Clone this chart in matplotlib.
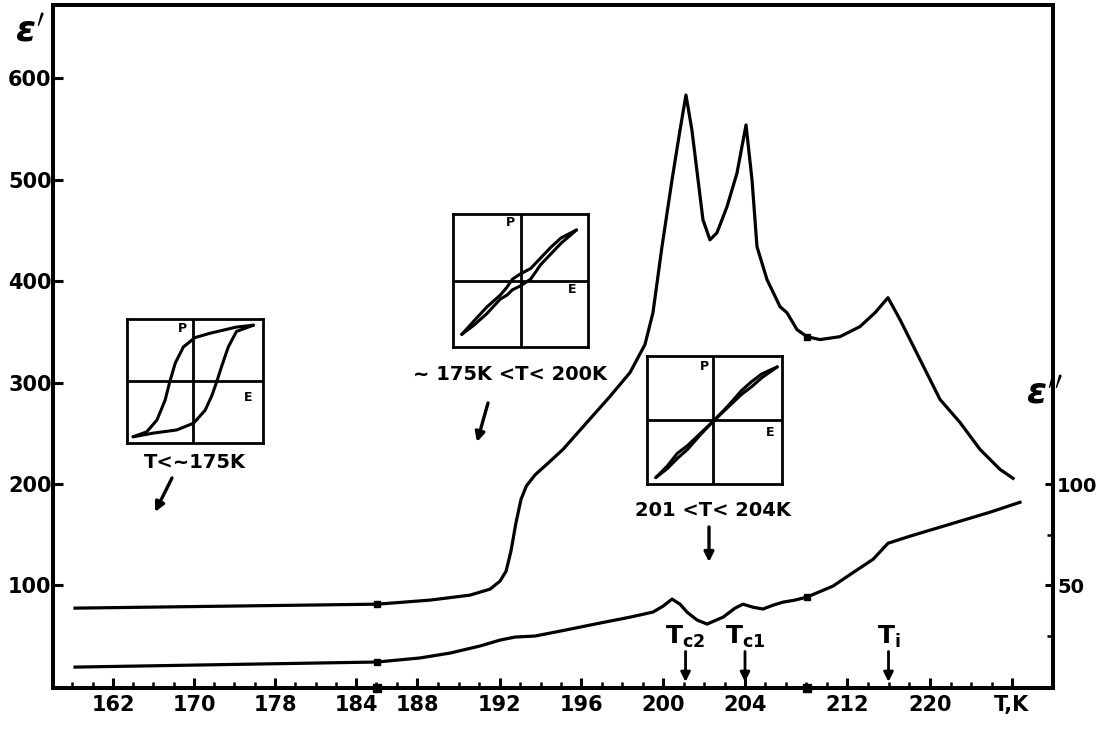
import numpy as np
import matplotlib
matplotlib.use('Agg')
from matplotlib import pyplot as plt

plt.rcParams['font.family'] = ['DejaVu Sans']
plt.rcParams['font.weight'] = 'bold'
plt.rcParams['mathtext.fontset'] = 'dejavusans'

# Temperature axis as drawn (hand-drawn, broken scale)
tick_T = [162, 170, 178, 184, 188, 192, 196, 200, 204, 212, 220, 228]
tick_labels = ['162', '170', '178', '184', '188', '192', '196', '200', '204', '212', '220', 'T,K']
minor_steps = [4, 4, 4, 3, 4, 4, 4, 4, 5, 4, 4]
tick_pos = [113, 194, 275, 356, 417, 500, 581, 663, 745, 847, 930, 1012]   # pixel layout of the ticks

# eps' (left axis)
eps1_T = [158.25, 185.38, 188.63, 190.55, 191.52, 192.0, 192.3, 192.54, 192.79, 193.04,
          193.3, 193.73, 194.37, 195.11, 196.2, 197.41, 198.39, 199.12, 199.51, 199.95,
          200.44, 200.83, 201.12, 201.41, 201.71, 201.95, 202.29, 202.63, 203.12, 203.61,
          204.08, 204.55, 204.94, 205.73, 206.75, 207.29, 208.08, 208.86, 209.88, 211.45,
          213.25, 214.7, 215.95, 217.11, 219.04, 220.98, 222.93, 224.88, 226.83, 228.1]
eps1 = [77.7, 81.6, 85.6, 90.5, 96.4, 104.3, 114.1, 133.8, 162.0, 185.0,
        198.0, 209.0, 220.5, 234.1, 258.7, 286.2, 309.8, 337.4, 368.8, 433.8,
        499.7, 548.8, 583.3, 548.8, 499.7, 460.3, 440.6, 447.5, 473.1, 506.5,
        553.8, 499.7, 433.8, 401.3, 374.7, 368.8, 352.1, 345.2, 342.3, 345.2,
        355.1, 368.8, 383.6, 362.0, 322.6, 283.3, 260.6, 234.1, 214.4, 205.6]
eps1_marks = [1, 37]

# eps'' (right axis)
eps2_T = [158.25, 185.38, 188.14, 189.59, 191.04, 192.0, 192.74, 193.73, 194.96, 196.93,
          198.39, 199.51, 200.0, 200.44, 200.83, 201.17, 201.66, 202.15, 202.93, 203.51,
          203.9, 204.63, 205.41, 206.2, 206.98, 207.92, 208.86, 210.9, 212.77, 214.51,
          215.95, 218.07, 221.95, 225.85, 228.78]
eps2 = [9.8, 12.3, 14.3, 16.7, 20.2, 23.1, 24.6, 25.1, 27.5, 31.5,
        34.4, 36.9, 39.8, 43.3, 40.8, 36.9, 33.0, 31.0, 34.4, 38.8,
        40.8, 39.3, 38.4, 40.3, 41.8, 42.8, 44.3, 49.7, 57.0, 62.9,
        70.8, 74.3, 80.2, 86.1, 91.0]
eps2_marks = [1, 26]
break_T = [185.38, 208.86]

# transition temperatures
trans_T = [201.1, 204.0, 216.0]
trans_labels = [r'$\mathrm{T}_{\mathrm{c2}}$', r'$\mathrm{T}_{\mathrm{c1}}$', r'$\mathrm{T}_{\mathrm{i}}$']

# P-E loops of the insets (normalised E, P)
loop1_up_E = [-0.91, -0.61, -0.27, -0.02, 0.15, 0.25, 0.32, 0.39, 0.49, 0.61, 0.86]
loop1_up_P = [-0.90, -0.84, -0.79, -0.68, -0.47, -0.23, -0.01, 0.23, 0.55, 0.80, 0.90]
loop1_dn_E = [0.86, 0.61, 0.22, 0.0, -0.17, -0.29, -0.37, -0.44, -0.56, -0.71, -0.91]
loop1_dn_P = [0.90, 0.87, 0.77, 0.70, 0.55, 0.29, -0.01, -0.31, -0.63, -0.82, -0.90]

loop2_E = [-0.87, -0.7, -0.5, -0.3, -0.2, -0.12, 0.0, 0.15, 0.3, 0.45, 0.6, 0.83]
loop2_up = [-0.81, -0.62, -0.40, -0.22, -0.10, 0.02, 0.10, 0.18, 0.34, 0.50, 0.64, 0.76]
loop2_dn = [-0.81, -0.68, -0.50, -0.28, -0.22, -0.14, -0.08, 0.02, 0.24, 0.40, 0.56, 0.76]

loop3_E = [-0.87, -0.7, -0.55, -0.4, -0.2, 0.0, 0.2, 0.4, 0.55, 0.7, 0.93]
loop3_up = [-0.90, -0.72, -0.52, -0.40, -0.20, 0.0, 0.22, 0.46, 0.60, 0.72, 0.83]
loop3_dn = [-0.90, -0.76, -0.60, -0.46, -0.22, 0.0, 0.20, 0.40, 0.52, 0.66, 0.83]

captions = ['T<~175K', '~ 175K <T< 200K', '201 <T< 204K']


# piecewise linear temperature -> drawing position
s0 = (tick_pos[1] - tick_pos[0]) / (tick_T[1] - tick_T[0])
s1 = (tick_pos[-1] - tick_pos[-2]) / (tick_T[-1] - tick_T[-2])
ext_T = [tick_T[0] - 20] + tick_T + [tick_T[-1] + 20]
ext_pos = [tick_pos[0] - 20 * s0] + tick_pos + [tick_pos[-1] + 20 * s1]


def t_to_pos(t):
    return np.interp(t, ext_T, ext_pos)


def pos_to_t(p):
    return np.interp(p, ext_pos, ext_T)


W, H = 1104, 729


def fx(x):
    return x / W


def fy(y):
    return 1 - y / H


fig = plt.figure(figsize=(11.04, 7.29), dpi=100)
ax = fig.add_axes([fx(53), fy(688), fx(1053) - fx(53), fy(5) - fy(688)])
ax.set_xscale('function', functions=(t_to_pos, pos_to_t))
ax.set_xlim(float(pos_to_t(53)), float(pos_to_t(1053)))
ax.set_ylim(-1, 672)
ax2 = ax.twinx()
ax2.set_ylim(-0.5, 336)

ax.plot(eps1_T, eps1, color='black', lw=2.3, marker='s', ms=5, markevery=eps1_marks,
        solid_joinstyle='round')
ax2.plot(eps2_T, eps2, color='black', lw=2.3, marker='s', ms=5, markevery=eps2_marks,
         solid_joinstyle='round')
ax.plot(break_T, [-1, -1], 's', color='black', ms=6, clip_on=False)

# ticks
ax.set_xticks(tick_T, tick_labels)
minor = [160, 158]
for a, b, n in zip(tick_T[:-1], tick_T[1:], minor_steps):
    minor += list(np.linspace(a, b, n + 1)[1:-1])
ax.set_xticks(minor, minor=True)
ax.set_yticks([100, 200, 300, 400, 500, 600])
ax.tick_params(which='major', direction='in', length=7, width=2.2, labelsize=15)
ax.tick_params(which='minor', direction='in', length=4, width=1.8)
ax.tick_params(axis='x', pad=5)
ax.tick_params(axis='y', pad=1)
ax2.set_yticks([50, 100])
ax2.set_yticks([25, 75], minor=True)
ax2.tick_params(which='major', direction='in', length=6, width=2.2, labelsize=14, pad=3)
ax2.tick_params(which='minor', direction='in', length=4, width=1.8)
for a in (ax, ax2):
    for sp in a.spines.values():
        sp.set_linewidth(2.8)

# transition arrows
for t, lab in zip(trans_T, trans_labels):
    ax.annotate('', xy=(t, 5), xytext=(t, 35),
                arrowprops=dict(arrowstyle='-|>', color='black', lw=2,
                                mutation_scale=14, shrinkA=0, shrinkB=0))
    ax.text(t, 49, lab, ha='center', va='center', fontsize=18)

# axis labels
fig.text(fx(30), fy(32), r"$\varepsilon'$", fontsize=26, ha='center', va='center')
fig.text(fx(1045), fy(393), r"$\varepsilon''$", fontsize=26, ha='center', va='center')


def draw_inset(box, branches, cross_E, p_xy, e_xy, caption, cap_xy, arrow):
    x0, y0, x1, y1 = box
    a = fig.add_axes([fx(x0), fy(y1), fx(x1) - fx(x0), fy(y0) - fy(y1)])
    a.set_xlim(-1, 1)
    a.set_ylim(-1, 1)
    a.set_xticks([])
    a.set_yticks([])
    for sp in a.spines.values():
        sp.set_linewidth(2)
    a.axvline(cross_E, color='black', lw=2)
    a.axhline(0, color='black', lw=2)
    for e, p in branches:
        a.plot(e, p, color='black', lw=2.2, solid_capstyle='round', solid_joinstyle='round')
    a.text(p_xy[0], p_xy[1], 'P', fontsize=9, ha='center', va='center')
    a.text(e_xy[0], e_xy[1], 'E', fontsize=9, ha='center', va='center')
    fig.text(fx(cap_xy[0]), fy(cap_xy[1]), caption, fontsize=14, ha='center', va='center')
    ax.annotate('', xy=(fx(arrow[2]), fy(arrow[3])), xytext=(fx(arrow[0]), fy(arrow[1])),
                xycoords='figure fraction', textcoords='figure fraction',
                arrowprops=dict(arrowstyle='-|>', color='black', lw=2.4,
                                mutation_scale=14, shrinkA=0, shrinkB=0))


draw_inset((127, 319, 263, 443), [(loop1_up_E, loop1_up_P), (loop1_dn_E, loop1_dn_P)],
           -0.03, (-0.18, 0.85), (0.78, -0.27), captions[0], (195, 463), (172, 478, 155, 512))
draw_inset((453, 214, 588, 347), [(loop2_E, loop2_up), (loop2_E, loop2_dn)],
           0.0, (-0.15, 0.87), (0.77, -0.14), captions[1], (510, 375), (488, 403, 477, 442))
draw_inset((647, 356, 782, 484), [(loop3_E, loop3_up), (loop3_E, loop3_dn)],
           -0.02, (-0.15, 0.83), (0.83, -0.2), captions[2], (713, 510), (709, 527, 709, 562))

fig.savefig('out.png', dpi=100)
